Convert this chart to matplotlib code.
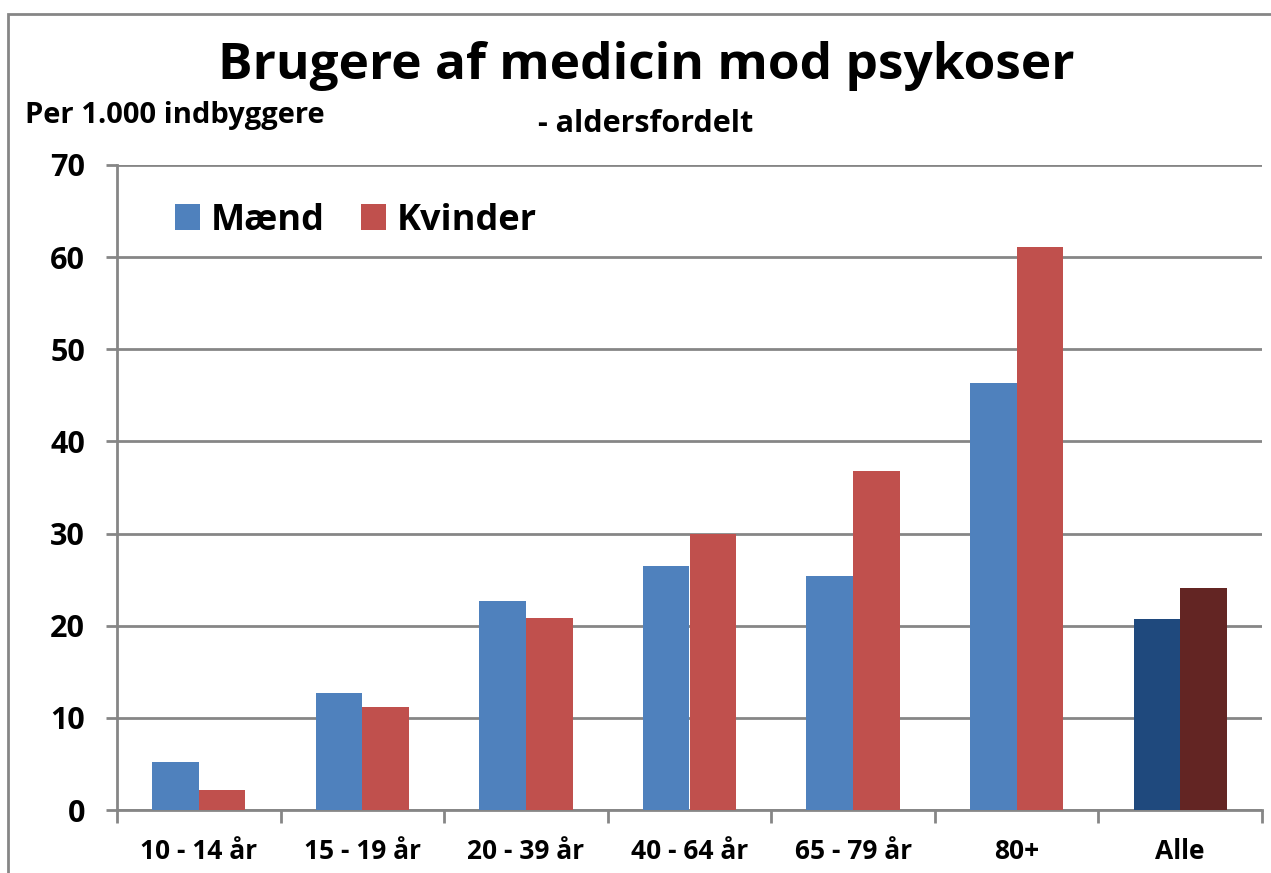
import matplotlib
matplotlib.use("Agg")
import matplotlib.pyplot as plt
import numpy as np
from matplotlib.patches import Rectangle

categories = ["10 - 14 år", "15 - 19 år", "20 - 39 år", "40 - 64 år", "65 - 79 år", "80+", "Alle"]
maend = [5.2, 12.7, 22.7, 26.5, 25.4, 46.3, 20.7]
kvinder = [2.2, 11.2, 20.8, 30.0, 36.8, 61.1, 24.1]
yticks = [0, 10, 20, 30, 40, 50, 60, 70]

plt.rcParams['font.family'] = ['Open Sans', 'DejaVu Sans']
plt.rcParams['font.weight'] = 'bold'

W, H = 1271, 873
fig = plt.figure(figsize=(W/100, H/100), dpi=100)
ax = fig.add_axes([117/W, 1-810/H, (1262-117)/W, (810-165)/H])

grey = "#868686"
blue, red = "#4F81BD", "#C0504D"
dblue, dred = "#1F497D", "#632523"
cm = [blue]*6 + [dblue]
ck = [red]*6 + [dred]

x = np.arange(len(categories))
bw = 0.285
ax.bar(x - bw/2, maend, bw, color=cm, zorder=3, label="Mænd")
ax.bar(x + bw/2, kvinder, bw, color=ck, zorder=3, label="Kvinder")

ax.set_xlim(-0.5, len(categories) - 0.5)
ax.set_ylim(0, 70)
ax.set_yticks(yticks)
ax.yaxis.grid(True, color=grey, lw=2, zorder=0)
ax.set_xticks(x)
ax.set_xticklabels(categories, fontsize=19, fontweight='bold')
ax.set_xticks(np.arange(len(categories)+1) - 0.5, minor=True)
ax.tick_params(axis='x', which='major', length=0, pad=20)
ax.tick_params(axis='x', which='minor', length=9, width=2, color=grey, direction='out')
ax.tick_params(axis='y', length=8, width=2, color=grey, labelsize=22, pad=15)
for lab in ax.get_yticklabels():
    lab.set_fontweight('bold')
for s in ['top', 'right']:
    ax.spines[s].set_visible(False)
for s in ['left', 'bottom']:
    ax.spines[s].set_color(grey)
    ax.spines[s].set_linewidth(2)

leg = ax.legend(loc='upper left', bbox_to_anchor=(0.022, 0.992), ncol=2, frameon=False,
                prop={'size': 26, 'weight': 'bold'}, handlelength=0.7, handleheight=0.7,
                handletextpad=0.3, columnspacing=1.0)

fig.text(646/W, 1-66/H, "Brugere af medicin mod psykoser", ha='center', va='center',
         fontsize=37, fontweight='bold')
fig.text(646/W, 1-124/H, "- aldersfordelt", ha='center', va='center', fontsize=22, fontweight='bold')
fig.text(25/W, 1-116/H, "Per 1.000 indbyggere", ha='left', va='center', fontsize=21, fontweight='bold')

fig.patches.append(Rectangle((8/W, -0.1), 1.2, (H-14)/H + 0.1, transform=fig.transFigure,
                             fill=False, edgecolor=grey, lw=2))

fig.savefig("out.png", dpi=100)
